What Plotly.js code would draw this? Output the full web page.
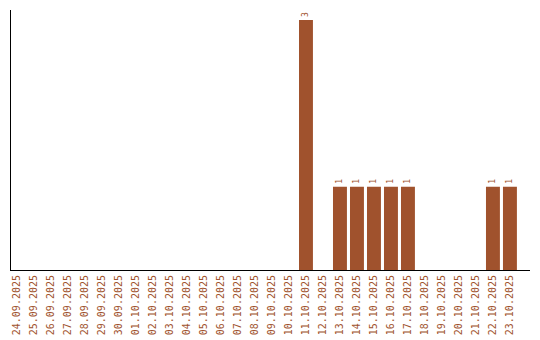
<!DOCTYPE html>
<html><head><meta charset="utf-8">
<script src="https://cdn.plot.ly/plotly-3.0.1.min.js"></script>
<style>html,body{margin:0;padding:0;background:#fff}#chart{width:540px;height:340px}</style>
</head><body><div id="chart"></div>
<script>
const dates = ["24.09.2025","25.09.2025","26.09.2025","27.09.2025","28.09.2025","29.09.2025","30.09.2025","01.10.2025","02.10.2025","03.10.2025","04.10.2025","05.10.2025","06.10.2025","07.10.2025","08.10.2025","09.10.2025","10.10.2025","11.10.2025","12.10.2025","13.10.2025","14.10.2025","15.10.2025","16.10.2025","17.10.2025","18.10.2025","19.10.2025","20.10.2025","21.10.2025","22.10.2025","23.10.2025"];
const counts = [0,0,0,0,0,0,0,0,0,0,0,0,0,0,0,0,0,3,0,1,1,1,1,1,0,0,0,0,1,1];
const labels = counts.map(v => v > 0 ? String(v) : "");
const color = "#a0522d";
Plotly.newPlot("chart", [{
  type: "bar",
  x: dates,
  y: counts,
  text: labels,
  textposition: "outside",
  textangle: -90,
  cliponaxis: false,
  textfont: {family: "DejaVu Sans Mono", size: 8, color: color},
  marker: {color: color},
  hoverinfo: "none"
}], {
  width: 540, height: 340,
  margin: {l: 11, r: 10, t: 10, b: 70},
  bargap: 0.18,
  paper_bgcolor: "#fff", plot_bgcolor: "#fff",
  showlegend: false,
  xaxis: {
    type: "category",
    range: [-0.353, 30.18],
    showline: true, linecolor: "#000", linewidth: 1,
    showgrid: false, ticks: "", tickangle: -90,
    tickfont: {family: "DejaVu Sans Mono", size: 10, color: color},
    zeroline: false
  },
  yaxis: {
    range: [0, 3.12],
    showline: true, linecolor: "#000", linewidth: 1,
    showgrid: false, showticklabels: false, ticks: "", zeroline: false
  }
}, {displayModeBar: false, staticPlot: true});
</script></body></html>
